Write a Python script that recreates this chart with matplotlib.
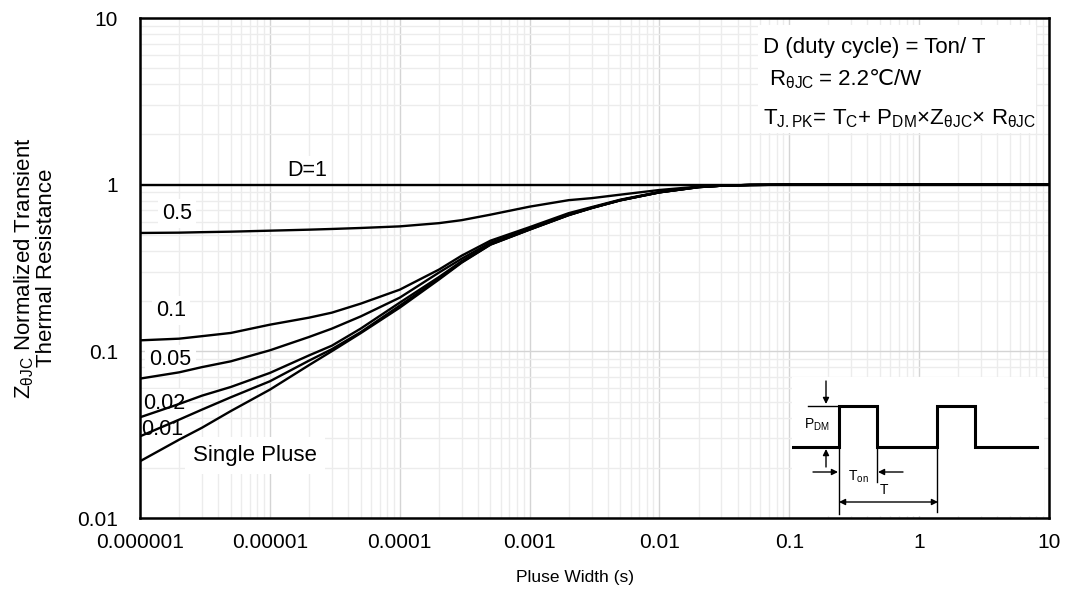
import matplotlib
matplotlib.use("Agg")
import matplotlib.pyplot as plt
from matplotlib.patches import Rectangle
from matplotlib.ticker import FixedLocator, LogLocator, NullFormatter

plt.rcParams['font.family'] = ['Liberation Sans', 'DejaVu Sans']
plt.rcParams['mathtext.fontset'] = 'custom'
plt.rcParams['mathtext.rm'] = 'Liberation Sans'
plt.rcParams['mathtext.it'] = 'Liberation Sans:italic'
plt.rcParams['mathtext.bf'] = 'Liberation Sans:bold'

# Pulse width (s) sample points
pulse_width = [1e-6, 2e-6, 3e-6, 5e-6, 1e-5, 2e-5, 3e-5, 5e-5, 1e-4, 2e-4,
               3e-4, 5e-4, 1e-3, 2e-3, 3e-3, 5e-3, 1e-2, 2e-2, 3e-2, 5e-2,
               1e-1, 1, 10]

# Normalized transient thermal impedance for each duty cycle
z_d05 = [0.5131, 0.5153, 0.5188, 0.5224, 0.5296, 0.5370, 0.5422, 0.5497,
         0.5620, 0.5875, 0.6124, 0.6607, 0.7379, 0.8072, 0.8299, 0.871,
         0.929, 0.973, 0.986, 0.996, 1.0, 1.0, 1.0]
z_d01 = [0.1164, 0.1191, 0.1233, 0.1289, 0.1445, 0.1592, 0.1706, 0.1932,
         0.2344, 0.309, 0.375, 0.4613, 0.5559, 0.6745, 0.7328, 0.8128,
         0.904, 0.970, 0.986, 0.996, 1.0, 1.0, 1.0]
z_d005 = [0.0686, 0.0748, 0.0804, 0.0871, 0.1014, 0.1219, 0.1368, 0.1619,
          0.2099, 0.2965, 0.3597, 0.4487, 0.5445, 0.661, 0.727, 0.808,
          0.901, 0.968, 0.986, 0.996, 1.0, 1.0, 1.0]
z_d002 = [0.0402, 0.0483, 0.0542, 0.0611, 0.0742, 0.0945, 0.1081, 0.1368,
          0.1959, 0.2786, 0.3475, 0.4396, 0.540, 0.659, 0.725, 0.807,
          0.900, 0.967, 0.986, 0.996, 1.0, 1.0, 1.0]
z_d001 = [0.0309, 0.0389, 0.0447, 0.0530, 0.0661, 0.0879, 0.1030, 0.1303,
          0.1879, 0.2729, 0.3428, 0.4377, 0.538, 0.657, 0.724, 0.806,
          0.899, 0.966, 0.986, 0.996, 1.0, 1.0, 1.0]
z_single = [0.0219, 0.0295, 0.0348, 0.0438, 0.0589, 0.0826, 0.1002, 0.1285,
            0.1828, 0.2692, 0.3404, 0.4365, 0.537, 0.656, 0.723, 0.805,
            0.899, 0.966, 0.986, 0.996, 1.0, 1.0, 1.0]
z_d1 = [1.0] * len(pulse_width)

curves = [z_d1, z_d05, z_d01, z_d005, z_d002, z_d001, z_single]

# Curve labels: (text, x, y)
curve_labels = [
    ("D=1", 1.93e-5, 1.21),
    ("0.5", 1.93e-6, 0.675),
    ("0.1", 1.73e-6, 0.175),
    ("0.05", 1.72e-6, 0.0891),
    ("0.02", 1.53e-6, 0.0489),
    ("0.01", 1.48e-6, 0.0341),
]
single_label = ("Single Pluse", 2.56e-6, 0.0237)

x_ticks = [1e-6, 1e-5, 1e-4, 1e-3, 1e-2, 1e-1, 1, 10]
x_ticklabels = ["0.000001", "0.00001", "0.0001", "0.001", "0.01", "0.1", "1", "10"]
y_ticks = [0.01, 0.1, 1, 10]
y_ticklabels = ["0.01", "0.1", "1", "10"]

W, H = 1068, 594
fig = plt.figure(figsize=(W / 100, H / 100), dpi=100)
ax = fig.add_axes([140 / W, 1 - 518 / H, 909 / W, 500 / H])

ax.set_xscale('log')
ax.set_yscale('log')
ax.set_xlim(1e-6, 10)
ax.set_ylim(0.01, 10)

ax.xaxis.set_major_locator(FixedLocator(x_ticks))
ax.set_xticklabels(x_ticklabels)
ax.yaxis.set_major_locator(FixedLocator(y_ticks))
ax.set_yticklabels(y_ticklabels)
ax.xaxis.set_minor_locator(LogLocator(base=10, subs=range(2, 10), numticks=20))
ax.yaxis.set_minor_locator(LogLocator(base=10, subs=range(2, 10), numticks=20))
ax.xaxis.set_minor_formatter(NullFormatter())
ax.yaxis.set_minor_formatter(NullFormatter())
ax.tick_params(which='both', length=0, labelsize=15, colors='black')
ax.tick_params(axis='x', pad=11)
ax.tick_params(axis='y', pad=16)

ax.set_axisbelow(True)
ax.grid(which='major', color='#d4d4d4', lw=1.0)
ax.grid(which='minor', color='#ececec', lw=1.0)
for s in ax.spines.values():
    s.set_linewidth(1.8)
    s.set_color('black')

for z in curves:
    ax.plot(pulse_width, z, color='black', lw=1.7, zorder=3,
            solid_capstyle='butt', solid_joinstyle='round')

for txt, x, y in curve_labels:
    ax.text(x, y, txt, fontsize=15.5, ha='center', va='center', zorder=2.5,
            bbox=dict(facecolor='white', edgecolor='none', pad=3))
ax.text(single_label[1], single_label[2], single_label[0], fontsize=16,
        ha='left', va='center', zorder=2.5,
        bbox=dict(facecolor='white', edgecolor='none', pad=6))

ax.set_xlabel("Pluse Width (s)", fontsize=12.5)
ax.xaxis.set_label_coords((575 - 140) / 909, -0.104)
ax.set_ylabel("Z$_{\\mathregular{θJC}}$ Normalized Transient\nThermal Resistance",
              fontsize=16, linespacing=1.0)
ax.yaxis.set_label_coords(-0.091, 0.5)

# Formula box, upper right
ax.add_patch(Rectangle((0.68, 0.77), 0.306, 0.216, transform=ax.transAxes,
                       facecolor='white', edgecolor='none', zorder=2))
tx = (763 - 140) / 909
ax.text(tx, 0.929, "D (duty cycle) = Ton/ T", transform=ax.transAxes,
        fontsize=16, ha='left', va='baseline', zorder=4)
r_txt = ax.text(tx, 0.866, " R$_{\\mathregular{θJC}}$", transform=ax.transAxes,
                fontsize=16, ha='left', va='baseline', zorder=4)
ax.text(tx, 0.788,
        "T$_{\\mathregular{J.PK}}$= T$_{\\mathregular{C}}$+ P$_{\\mathregular{DM}}$×"
        "Z$_{\\mathregular{θJC}}$× R$_{\\mathregular{θJC}}$",
        transform=ax.transAxes, fontsize=16, ha='left', va='baseline', zorder=4)

fig.canvas.draw()
bb = r_txt.get_window_extent()
x_next = ax.transAxes.inverted().transform((bb.x1 + 5, 0))[0]
ax.text(x_next, 0.866, "= 2.2℃/W", transform=ax.transAxes,
        fontsize=16, ha='left', va='baseline', zorder=4)

# Pulse waveform schematic, lower right
ins = fig.add_axes([792 / W, 1 - 516 / H, 252 / W, 139 / H], zorder=5)
ins.set_xlim(0, 252)
ins.set_ylim(139, 0)
ins.set_facecolor('white')
for s in ins.spines.values():
    s.set_visible(False)
ins.set_xticks([])
ins.set_yticks([])

low, high = 70, 29
xs = [1, 47, 47, 85, 85, 145, 145, 183, 183, 245]
ys = [low, low, high, high, low, low, high, high, low, low]
ins.plot(xs, ys, color='black', lw=2.2, solid_joinstyle='miter')
ins.plot([47, 47], [low, 137], color='black', lw=1)
ins.plot([85, 85], [low, 105], color='black', lw=1)
ins.plot([145, 145], [low, 135], color='black', lw=1)
ins.plot([16, 47], [high, high], color='black', lw=1)

arrow = dict(arrowstyle='-|>', color='black', lw=1, mutation_scale=9,
             shrinkA=0, shrinkB=0)
ins.annotate("", xy=(34, high - 2), xytext=(34, 4), arrowprops=arrow)
ins.annotate("", xy=(34, low + 2), xytext=(34, 90), arrowprops=arrow)
ins.annotate("", xy=(46, 95), xytext=(21, 95), arrowprops=arrow)
ins.annotate("", xy=(86, 95), xytext=(111, 95), arrowprops=arrow)
ins.annotate("", xy=(146, 125), xytext=(47, 125),
             arrowprops=dict(arrowstyle='<|-|>', color='black', lw=1,
                             mutation_scale=9, shrinkA=0, shrinkB=0))
ins.text(25, 48, "P$_{\\mathregular{DM}}$", fontsize=10, ha='center', va='center')
ins.text(66, 100, "T$_{\\mathregular{on}}$", fontsize=10, ha='center', va='center')
ins.text(92, 113, "T", fontsize=10, ha='center', va='center')

fig.savefig("out.png", dpi=100, facecolor='white')
